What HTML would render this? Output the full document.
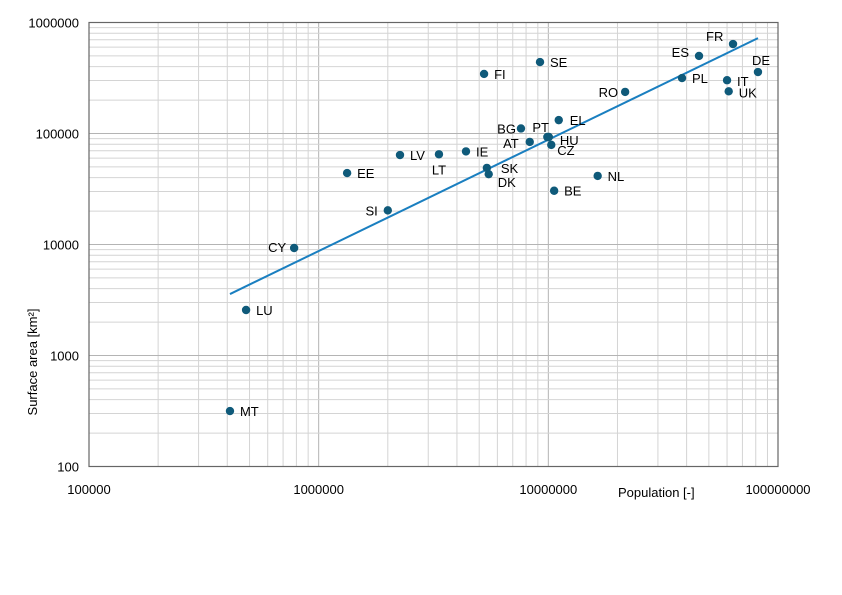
<!DOCTYPE html>
<html><head><meta charset="utf-8"><style>
html,body{margin:0;padding:0;background:#fff;}
svg{display:block;font-family:"Liberation Sans",Arial,sans-serif;}
</style></head><body>
<svg id="chart" width="842" height="595" viewBox="0 0 842 595">
<g id="grid"></g>
<rect x="89" y="22.5" width="689" height="444" fill="none" stroke="#666" stroke-width="1.2"/>
<g id="ticks"></g>
<g id="fit"></g>
<g id="points"></g>
<text x="618" y="497" font-size="13" fill="#000">Population [-]</text>
<text transform="translate(37,362) rotate(-90)" text-anchor="middle" font-size="13" fill="#000">Surface area [km²]</text>
</svg>
<script>
const countries=["MT","LU","CY","SI","EE","LV","LT","IE","FI","SE","SK","DK","BG","AT","PT","HU","CZ","EL","BE","NL","RO","PL","ES","FR","IT","UK","DE"];
const population=[411000,483000,782000,2000000,1330000,2260000,3340000,4380000,5250000,9200000,5400000,5500000,7600000,8300000,9900000,10050000,10300000,11100000,10600000,16400000,21600000,38200000,45300000,63700000,60000000,61000000,81800000];
const area=[316,2570,9300,20300,44000,64000,65000,69000,344000,440000,49000,43000,111000,84000,93000,93000,79000,132000,30500,41500,237000,316000,500000,640000,302000,240000,358000];
const xTickLabels=["100000","1000000","10000000","100000000"];
const yTickLabels=["100","1000","10000","100000","1000000"];
const fitIntercept=-2.077;
const fitSlope=1.003;
const labelOffsets={MT:[10,5,"start"],LU:[10,5,"start"],CY:[-8,4,"end"],SI:[-10,5,"end"],EE:[10,5,"start"],LV:[10,5,"start"],LT:[0,20,"middle"],IE:[10,5,"start"],FI:[10,5,"start"],SE:[10,5,"start"],SK:[14,5,"start"],DK:[9,13,"start"],BG:[-5,5,"end"],AT:[-11,6,"end"],PT:[-15,-5,"start"],HU:[11,8,"start"],CZ:[6,10,"start"],EL:[11,5,"start"],BE:[10,5,"start"],NL:[10,5,"start"],RO:[-7,5,"end"],PL:[10,5,"start"],ES:[-10,1,"end"],FR:[-27,-3,"start"],IT:[10,6,"start"],UK:[10,6,"start"],DE:[-6,-7,"start"]};
const NS="http://www.w3.org/2000/svg";
const X0=89,X1=778,Y0=466.5,Y1=22.5;
function sx(v){return X0+(Math.log10(v)-5)/3*(X1-X0);}
function sy(v){return Y0-(Math.log10(v)-2)/4*(Y0-Y1);}
function mk(t,a,p){const e=document.createElementNS(NS,t);for(const k in a)e.setAttribute(k,a[k]);p.appendChild(e);return e;}
const grid=document.getElementById('grid');
for(let d=5;d<8;d++)for(let m=1;m<10;m++){const x=sx(m*Math.pow(10,d));
const l=mk('line',{x1:x,x2:x,y1:Y1,y2:Y0,stroke:m==1?'#b4b4b4':'#d4d4d4','stroke-width':1},grid);

}
for(let d=2;d<6;d++)for(let m=1;m<10;m++){const y=sy(m*Math.pow(10,d));
const l=mk('line',{x1:X0,x2:X1,y1:y,y2:y,stroke:m==1?'#b4b4b4':'#d4d4d4','stroke-width':1},grid);

}
const ticks=document.getElementById('ticks');
xTickLabels.forEach(s=>{const t=mk('text',{x:sx(+s),y:494,'text-anchor':'middle','font-size':13},ticks);t.textContent=s;

});
yTickLabels.forEach(s=>{const t=mk('text',{x:79,y:sy(+s)+5,'text-anchor':'end','font-size':13},ticks);t.textContent=s;

});
const xmin=Math.min(...population),xmax=Math.max(...population);
function fitY(x){return Math.pow(10,fitIntercept+fitSlope*Math.log10(x));}
const fl=mk('line',{x1:sx(xmin),y1:sy(fitY(xmin)),x2:sx(xmax),y2:sy(fitY(xmax)),stroke:'#1a7fc0','stroke-width':2},document.getElementById('fit'));


const pts=document.getElementById('points');
countries.forEach((c,i)=>{const x=sx(population[i]),y=sy(area[i]);
const p=mk('circle',{cx:x,cy:y,r:4.2,fill:'#0f5a7a'},pts);


const o=labelOffsets[c]||[10,5,"start"];
const t=mk('text',{x:x+o[0],y:y+o[1],'text-anchor':o[2],'font-size':13,fill:'#000'},pts);t.textContent=c;

});
</script>
</body></html>
